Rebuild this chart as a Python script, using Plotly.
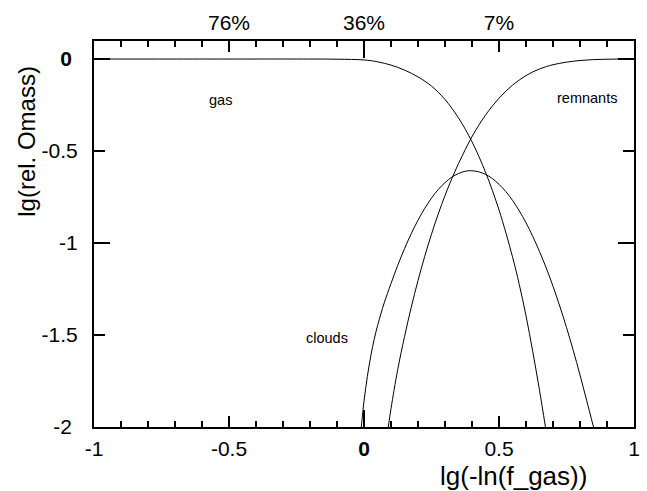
import plotly.graph_objects as go

# lg(-ln(f_gas)) abscissa and lg of relative mass for each component
gas_x = [-1.0, -0.5, -0.25, -0.1, 0.0, 0.05, 0.1, 0.15, 0.2, 0.25, 0.3, 0.35, 0.4, 0.45,
         0.5, 0.55, 0.575, 0.6, 0.625, 0.65, 0.672]
gas_y = [0.0, 0.0, 0.0, -0.001, -0.005, -0.015, -0.033, -0.06, -0.097, -0.147, -0.22, -0.32, -0.45, -0.615,
         -0.82, -1.075, -1.225, -1.395, -1.59, -1.8, -2.0]

clouds_x = [-0.01, 0.0, 0.0125, 0.025, 0.0375, 0.05, 0.0625, 0.075, 0.1, 0.125, 0.15, 0.175, 0.2, 0.225,
            0.25, 0.275, 0.3, 0.325, 0.35, 0.375, 0.396, 0.425, 0.45, 0.475, 0.5, 0.525, 0.55, 0.575,
            0.6, 0.625, 0.65, 0.675, 0.7, 0.725, 0.75, 0.775, 0.8, 0.825, 0.85]
clouds_y = [-2.0, -1.86, -1.725, -1.615, -1.525, -1.45, -1.385, -1.325, -1.22, -1.121, -1.031, -0.949, -0.876,
            -0.812, -0.756, -0.709, -0.672, -0.642, -0.622, -0.61, -0.607, -0.613, -0.627, -0.649, -0.681,
            -0.72, -0.768, -0.825, -0.89, -0.964, -1.046, -1.136, -1.235, -1.343, -1.459, -1.584, -1.717,
            -1.858, -2.0]

remnants_x = [0.09, 0.1, 0.125, 0.15, 0.175, 0.2, 0.225, 0.25, 0.275, 0.3, 0.325, 0.35, 0.375, 0.4,
              0.425, 0.45, 0.475, 0.5, 0.525, 0.55, 0.575, 0.6, 0.625, 0.65, 0.675, 0.7, 0.75, 0.8,
              0.85, 0.9, 0.95, 1.0]
remnants_y = [-2.0, -1.9, -1.687, -1.509, -1.349, -1.204, -1.072, -0.952, -0.842, -0.742, -0.651, -0.568,
              -0.492, -0.422, -0.36, -0.305, -0.256, -0.213, -0.175, -0.142, -0.114, -0.09, -0.07, -0.054,
              -0.041, -0.031, -0.017, -0.008, -0.003, -0.001, 0.0, 0.0]

x_ticks = [-1, -0.5, 0, 0.5, 1]
x_ticktext = ["-1", "-0.5", "<b>0</b>", "0.5", "1"]
top_ticks = [-0.5, 0, 0.5]
top_ticktext = ["76%", "36%", "7%"]
y_ticks = [0, -0.5, -1, -1.5, -2]
y_ticktext = ["<b>0</b>\u00a0", "-0.5", "-1", "-1.5", "-2\u00a0"]
long_x_ticks = [-1, 0, 1]
long_y_ticks = [0, -1, -2]

FONT = "Liberation Sans, Arial, sans-serif"
X_RANGE = [-1, 1]
Y_RANGE = [-2, 0.098]

fig = go.Figure()
for xs, ys in [(gas_x, gas_y), (clouds_x, clouds_y), (remnants_x, remnants_y)]:
    fig.add_trace(go.Scatter(x=xs, y=ys, mode="lines",
                             line=dict(color="black", width=1, shape="spline", smoothing=1.0),
                             showlegend=False, hoverinfo="skip"))

# empty traces that bring the overlay axes into the layout
fig.add_trace(go.Scatter(x=[None], y=[None], xaxis="x2", yaxis="y", showlegend=False))
fig.add_trace(go.Scatter(x=[None], y=[None], xaxis="x3", yaxis="y", showlegend=False))
fig.add_trace(go.Scatter(x=[None], y=[None], xaxis="x", yaxis="y2", showlegend=False))

tickfont = dict(family=FONT, size=21, color="black")
common = dict(showgrid=False, zeroline=False, tickcolor="black", tickwidth=1.5)

fig.update_layout(
    width=647, height=491,
    margin=dict(l=94, r=7, t=41, b=64),
    paper_bgcolor="white", plot_bgcolor="white",
    xaxis=dict(range=X_RANGE, tickvals=x_ticks, ticktext=x_ticktext, ticks="inside", ticklen=11,
               showline=True, linewidth=2, linecolor="black", mirror="ticks",
               tickfont=tickfont, ticklabelstandoff=2,
               minor=dict(dtick=0.1, tick0=0, ticks="inside", ticklen=6, tickwidth=1.5,
                          tickcolor="black", showgrid=False), **common),
    xaxis2=dict(range=X_RANGE, overlaying="x", side="top", anchor="y", tickvals=top_ticks,
                ticktext=top_ticktext, ticks="", showline=False, tickfont=tickfont,
                ticklabelstandoff=6, showgrid=False, zeroline=False),
    xaxis3=dict(range=X_RANGE, overlaying="x", side="bottom", anchor="y", tickvals=long_x_ticks,
                ticks="inside", ticklen=17, mirror="ticks", showline=False,
                showticklabels=False, **common),
    yaxis=dict(range=Y_RANGE, tickvals=y_ticks, ticktext=y_ticktext, ticks="inside", ticklen=11,
               showline=True, linewidth=2, linecolor="black", mirror="ticks",
               tickfont=tickfont, ticklabelstandoff=10, **common),
    yaxis2=dict(range=Y_RANGE, overlaying="y", side="left", anchor="x", tickvals=long_y_ticks,
                ticks="inside", ticklen=16, mirror="ticks", showline=False,
                showticklabels=False, **common),
)

label_font = dict(family=FONT, size=14.5, color="black")
fig.add_annotation(x=-0.53, y=-0.223, text="gas", showarrow=False, font=label_font)
fig.add_annotation(x=0.825, y=-0.212, text="remnants", showarrow=False, font=label_font)
fig.add_annotation(x=-0.137, y=-1.516, text="clouds", showarrow=False, font=label_font)

title_font = dict(family=FONT, size=24, color="black")
fig.add_annotation(xref="paper", yref="paper", x=(518 - 94) / 546, y=-(476 - 427) / 386,
                   text="lg(-ln(f_gas))", showarrow=False, font=dict(title_font, size=26),
                   xanchor="center", yanchor="middle")
fig.add_annotation(xref="paper", yref="paper", x=-(94 - 25) / 546, y=(427 - 141) / 386,
                   text="lg(rel. Omass)", showarrow=False, font=title_font, textangle=-90,
                   xanchor="center", yanchor="middle")

fig.write_html("out.html")
